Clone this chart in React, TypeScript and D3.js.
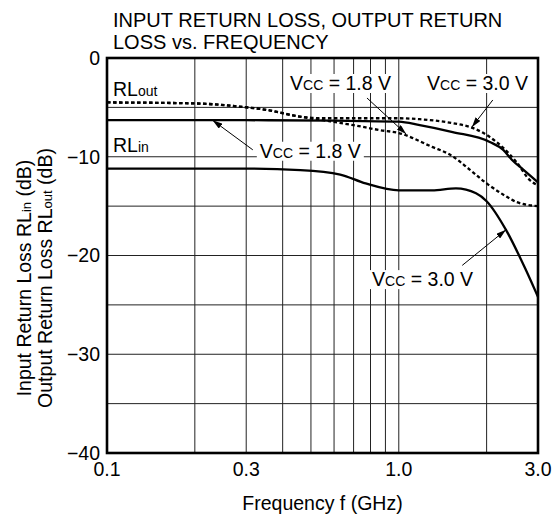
import React, { useRef, useEffect } from 'react';
import * as d3 from 'd3';

// frequency (GHz) / return loss (dB)
const rlOut18: [number, number][] = [
  [0.1, -4.5], [0.2, -4.6], [0.28, -4.9], [0.36, -5.3], [0.45, -5.9], [0.55, -6.3],
  [0.7, -6.8], [0.86, -7.3], [1.0, -7.6], [1.3, -9.0], [1.5, -9.8], [1.75, -11.3],
  [2.0, -12.7], [2.3, -13.9], [2.54, -14.6], [3.0, -15.0],
];
const rlOut30: [number, number][] = [
  [0.1, -4.5], [0.2, -4.6], [0.28, -4.9], [0.36, -5.3], [0.45, -5.9], [0.55, -6.1],
  [0.7, -6.1], [1.0, -6.1], [1.18, -6.2], [1.53, -6.6], [1.8, -7.1], [2.05, -8.0],
  [2.28, -9.1], [2.54, -10.6], [2.82, -12.4], [3.0, -12.9],
];
const rlIn18: [number, number][] = [
  [0.1, -6.3], [0.3, -6.3], [0.6, -6.35], [1.0, -6.45], [1.18, -6.8], [1.53, -7.5],
  [2.05, -8.5], [2.28, -9.3], [2.44, -10.3], [2.67, -11.3], [3.0, -12.6],
];
const rlIn30: [number, number][] = [
  [0.1, -11.2], [0.3, -11.2], [0.46, -11.35], [0.63, -11.8], [0.77, -12.7], [1.0, -13.4],
  [1.3, -13.4], [1.57, -13.2], [1.84, -13.7], [2.0, -14.5], [2.33, -17.4], [2.73, -21.5],
  [3.0, -24.2],
];

const xTicks = [0.1, 0.3, 1.0, 3.0];
const xTickLabels = ['0.1', '0.3', '1.0', '3.0'];
const xGrid = [0.2, 0.3, 0.4, 0.5, 0.6, 0.7, 0.8, 0.9, 1.0, 2.0];
const yTicks = [0, -10, -20, -30, -40];
const yTickLabels = ['0', '\u221210', '\u221220', '\u221230', '\u221240'];
const yGrid = [-5, -10, -15, -20, -25, -30, -35];

// annotations: label (left, baseline), arrow tail, arrow tip — all in data units
const notes = [
  { volts: '1.8', label: [0.334, -10.1], tail: [0.316, -9.3], tip: [0.23, -6.3] },
  { volts: '1.8', label: [0.424, -3.24], tail: [0.778, -4.05], tip: [1.06, -7.7] },
  { volts: '3.0', label: [1.25, -3.24], tail: [2.1, -4.25], tip: [1.78, -7.0] },
  { volts: '3.0', label: [0.81, -23.1], tail: [1.65, -21.0], tip: [2.33, -17.4] },
];

const W = 555;
const H = 520;
const font = '"Liberation Sans", Arial, sans-serif';

export default function App() {
  const svgRef = useRef<SVGSVGElement>(null);

  useEffect(() => {
    const svg = d3.select(svgRef.current);
    svg.selectAll('*').remove();

    const x = d3.scaleLog().domain([0.1, 3.0]).range([107, 538]);
    const y = d3.scaleLinear().domain([-40, 0]).range([453, 58]);

    svg.append('defs').append('marker')
      .attr('id', 'arr')
      .attr('viewBox', '0 0 10 6')
      .attr('refX', 10).attr('refY', 3)
      .attr('markerWidth', 10).attr('markerHeight', 6)
      .attr('markerUnits', 'userSpaceOnUse')
      .attr('orient', 'auto')
      .append('path').attr('d', 'M0,0L10,3L0,6Z').attr('fill', '#000');

    // grid
    svg.append('g').selectAll('line').data(xGrid).join('line')
      .attr('x1', d => x(d)).attr('x2', d => x(d))
      .attr('y1', y(0)).attr('y2', y(-40))
      .attr('stroke', '#222').attr('stroke-width', 1);
    svg.append('g').selectAll('line').data(yGrid).join('line')
      .attr('x1', x(0.1)).attr('x2', x(3))
      .attr('y1', d => y(d)).attr('y2', d => y(d))
      .attr('stroke', '#222').attr('stroke-width', 1);

    // curves
    const line = d3.line<[number, number]>()
      .x(d => x(d[0])).y(d => y(d[1]))
      .curve(d3.curveMonotoneX);
    const series = [
      { data: rlOut18, dash: '3.5,2.5' },
      { data: rlOut30, dash: '3.5,2.5' },
      { data: rlIn18, dash: null },
      { data: rlIn30, dash: null },
    ];
    svg.append('g').selectAll('path').data(series).join('path')
      .attr('d', d => line(d.data))
      .attr('fill', 'none')
      .attr('stroke', '#000')
      .attr('stroke-width', 2.3)
      .attr('stroke-dasharray', d => d.dash);

    // annotations
    const ng = svg.append('g');
    notes.forEach(n => {
      const t = ng.append('text')
        .attr('x', x(n.label[0])).attr('y', y(n.label[1]))
        .attr('font-family', font).attr('font-size', 19.5);
      t.append('tspan').text('V');
      t.append('tspan').attr('font-size', 14).text('CC');
      t.append('tspan').text(` = ${n.volts} V`);
      const bb = (t.node() as SVGTextElement).getBBox();
      ng.insert('rect', () => t.node())
        .attr('x', bb.x - 3).attr('y', bb.y + 2)
        .attr('width', bb.width + 6).attr('height', bb.height - 3)
        .attr('fill', '#fff');
      ng.append('line')
        .attr('x1', x(n.tail[0])).attr('y1', y(n.tail[1]))
        .attr('x2', x(n.tip[0])).attr('y2', y(n.tip[1]))
        .attr('stroke', '#000').attr('stroke-width', 1)
        .attr('marker-end', 'url(#arr)');
    });

    // RL labels
    const rl = (sub: string, yv: number) => {
      const t = svg.append('text')
        .attr('x', 113).attr('y', y(yv))
        .attr('font-family', font).attr('font-size', 19.5);
      t.append('tspan').text('RL');
      t.append('tspan').attr('font-size', 14).text(sub);
    };
    rl('out', -3.8);
    rl('in', -9.5);

    // frame
    svg.append('rect')
      .attr('x', x(0.1)).attr('y', y(0))
      .attr('width', x(3) - x(0.1)).attr('height', y(-40) - y(0))
      .attr('fill', 'none').attr('stroke', '#000').attr('stroke-width', 2.6);

    // tick labels
    svg.append('g').selectAll('text').data(yTicks).join('text')
      .attr('x', 100).attr('y', d => y(d))
      .attr('dy', '0.35em')
      .attr('text-anchor', 'end')
      .attr('font-family', font).attr('font-size', 19.5)
      .text((d, i) => yTickLabels[i]);
    svg.append('g').selectAll('text').data(xTicks).join('text')
      .attr('x', d => x(d)).attr('y', 476)
      .attr('text-anchor', 'middle')
      .attr('font-family', font).attr('font-size', 19.5)
      .text((d, i) => xTickLabels[i]);

    // axis titles
    svg.append('text')
      .attr('x', (x(0.1) + x(3)) / 2).attr('y', 510)
      .attr('text-anchor', 'middle')
      .attr('font-family', font).attr('font-size', 19.5)
      .text('Frequency f (GHz)');

    const ytitle = (xLine: number, pre: string, sub: string) => {
      const t = svg.append('text')
        .attr('transform', `translate(${xLine},278) rotate(-90)`)
        .attr('text-anchor', 'middle')
        .attr('font-family', font).attr('font-size', 19.5);
      t.append('tspan').text(pre);
      t.append('tspan').attr('font-size', 13).text(sub);
      t.append('tspan').text(' (dB)');
    };
    ytitle(30.5, 'Input Return Loss RL', 'in');
    ytitle(52, 'Output Return Loss RL', 'out');

    // chart title
    const title = svg.append('text')
      .attr('font-family', font).attr('font-size', 20);
    title.append('tspan').attr('x', 113).attr('y', 27).text('INPUT RETURN LOSS, OUTPUT RETURN');
    title.append('tspan').attr('x', 113).attr('y', 49).text('LOSS vs. FREQUENCY');
  }, []);

  return (
    <svg ref={svgRef} width={W} height={H}
      style={{ position: 'absolute', left: 0, top: 0, background: '#fff' }} />
  );
}
